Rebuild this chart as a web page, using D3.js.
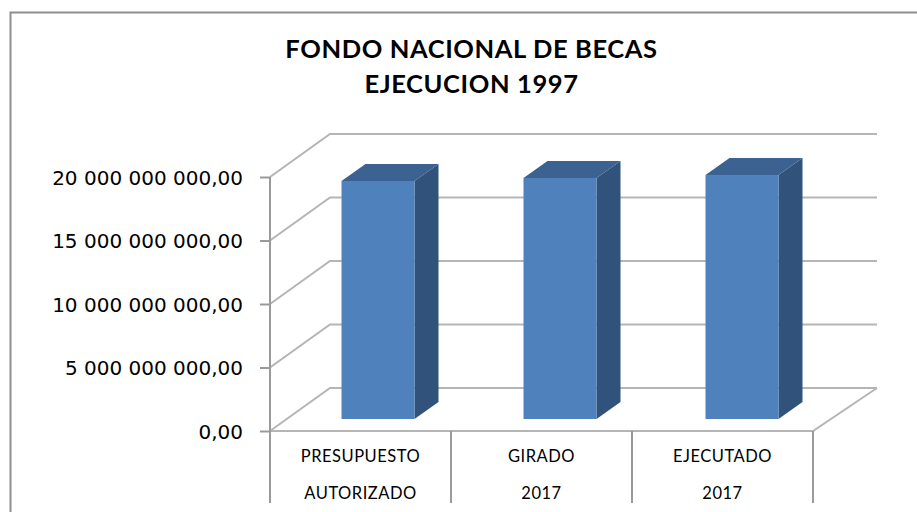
<!DOCTYPE html>
<html>
<head>
<meta charset="utf-8">
<script src="https://cdn.jsdelivr.net/npm/d3@7"></script>
<style>
  html, body { margin: 0; padding: 0; background: #fff; overflow: hidden; }
  svg { display: block; }
  .title { font-family: Lato, sans-serif; font-weight: 700; font-size: 25.5px; letter-spacing: 0.6px; fill: #000; text-anchor: middle; }
  .valueLabel { font-family: "DejaVu Sans", sans-serif; font-size: 20px; fill: #000; text-anchor: end; }
  .catLabel { font-family: Lato, sans-serif; font-size: 16.5px; letter-spacing: 0.5px; fill: #000; text-anchor: middle; }
</style>
</head>
<body>
<div id="chart"></div>
<script>
// values
var titleLines = ["FONDO NACIONAL DE BECAS", "EJECUCION 1997"];
var categories = ["PRESUPUESTO", "GIRADO", "EJECUTADO"];
var categories2 = ["AUTORIZADO", "2017", "2017"];
var values = [18740000000, 18980000000, 19210000000];
var tickValues = [0, 5000000000, 10000000000, 15000000000, 20000000000];
var tickLabels = ["0,00", "5 000 000 000,00", "10 000 000 000,00", "15 000 000 000,00", "20 000 000 000,00"];

var svgWidth = 917;
var svgHeight = 512;

var gridColor = "#b5b5b5";
var axisColor = "#9a9a9a";

// oblique offset of the back wall
var depthX = 60;
var depthY = -43;
// bar sits this far into the floor, and is this deep
var barOffsetX = 17;
var barOffsetY = -12;
var barDepthX = 24;
var barDepthY = -17;

var svg = d3.select("#chart")
  .append("svg")
  .attr("width", svgWidth)
  .attr("height", svgHeight);

var xScale = d3.scaleBand()
  .domain(categories)
  .range([270, 813])
  .paddingInner(0)
  .paddingOuter(0);

// bars in the reference are spaced a touch wider than the label cells
var barScale = d3.scaleBand()
  .domain(categories)
  .range([270, 816]);

var yScale = d3.scaleLinear()
  .domain([0, 20000000000])
  .range([431, 177]);

var barWidth = 73;

// outer frame, open at right and bottom
svg.append("path")
  .attr("d", "M10.5,512V12.5H917")
  .attr("fill", "none")
  .attr("stroke", "#8f8f8f")
  .attr("stroke-width", 2);

// title
svg.selectAll(".title")
  .data(titleLines)
  .enter()
  .append("text")
  .attr("class", "title")
  .attr("x", 471.5)
  .attr("y", (d, i) => 58 + i * 35)
  .text(d => d);

// back wall and side wall gridlines
var grid = svg.append("g")
  .attr("fill", "none")
  .attr("stroke", gridColor)
  .attr("stroke-width", 2);

grid.selectAll("path")
  .data(tickValues)
  .enter()
  .append("path")
  .attr("d", d => `M270,${yScale(d)}L${270 + depthX},${yScale(d) + depthY}H${813 + depthX + 4}`);

// floor front edge and right edge
grid.append("path")
  .attr("d", `M270,${yScale(0)}H813L${813 + depthX + 4},${yScale(0) + depthY}`);

// value axis
var axis = d3.axisLeft(yScale)
  .tickValues(tickValues)
  .tickSize(10)
  .tickPadding(17)
  .tickFormat((d, i) => tickLabels[i]);

var axisGroup = svg.append("g")
  .attr("transform", "translate(270, 0)")
  .call(axis);

axisGroup.select(".domain")
  .attr("stroke", axisColor)
  .attr("stroke-width", 2)
  .attr("d", `M0,${yScale(20000000000)}V${yScale(0)}`);
axisGroup.selectAll(".tick line")
  .attr("stroke", axisColor)
  .attr("stroke-width", 2);
axisGroup.selectAll(".tick text")
  .attr("class", "valueLabel")
  .attr("dy", "0.36em");

// category separators
svg.append("g")
  .selectAll("line")
  .data([270, 270 + xScale.bandwidth(), 270 + 2 * xScale.bandwidth(), 813])
  .enter()
  .append("line")
  .attr("x1", d => d)
  .attr("x2", d => d)
  .attr("y1", 431)
  .attr("y2", 503)
  .attr("stroke", axisColor)
  .attr("stroke-width", 2);

// 3d bars, each one a front, a top and a side face
function barLeft(i) {
  return barScale(categories[i]) + (barScale.bandwidth() - barWidth) / 2 + barOffsetX;
}
var barBase = yScale(0) + barOffsetY;
function barTop(d) {
  return barBase - (yScale(0) - yScale(d));
}

var bars = svg.append("g")
  .selectAll("g")
  .data(values)
  .enter()
  .append("g");

bars.append("polygon")
  .attr("fill", "#31527a")
  .attr("points", (d, i) => {
    var x = barLeft(i) + barWidth;
    return [[x, barBase], [x + barDepthX, barBase + barDepthY], [x + barDepthX, barTop(d) + barDepthY], [x, barTop(d)]].join(" ");
  });

bars.append("polygon")
  .attr("fill", "#3b6291")
  .attr("points", (d, i) => {
    var x = barLeft(i);
    var y = barTop(d);
    return [[x, y], [x + barDepthX, y + barDepthY], [x + barWidth + barDepthX, y + barDepthY], [x + barWidth, y]].join(" ");
  });

bars.append("rect")
  .attr("fill", "#4f81bd")
  .attr("x", (d, i) => barLeft(i))
  .attr("y", d => barTop(d))
  .attr("width", barWidth)
  .attr("height", d => barBase - barTop(d));

// two-line category labels
svg.selectAll(".cat1")
  .data(categories)
  .enter()
  .append("text")
  .attr("class", "catLabel")
  .attr("x", d => xScale(d) + xScale.bandwidth() / 2)
  .attr("y", 462)
  .text(d => d);

svg.selectAll(".cat2")
  .data(categories2)
  .enter()
  .append("text")
  .attr("class", "catLabel")
  .attr("x", (d, i) => xScale(categories[i]) + xScale.bandwidth() / 2)
  .attr("y", 499)
  .text(d => d);
</script>
</body>
</html>
